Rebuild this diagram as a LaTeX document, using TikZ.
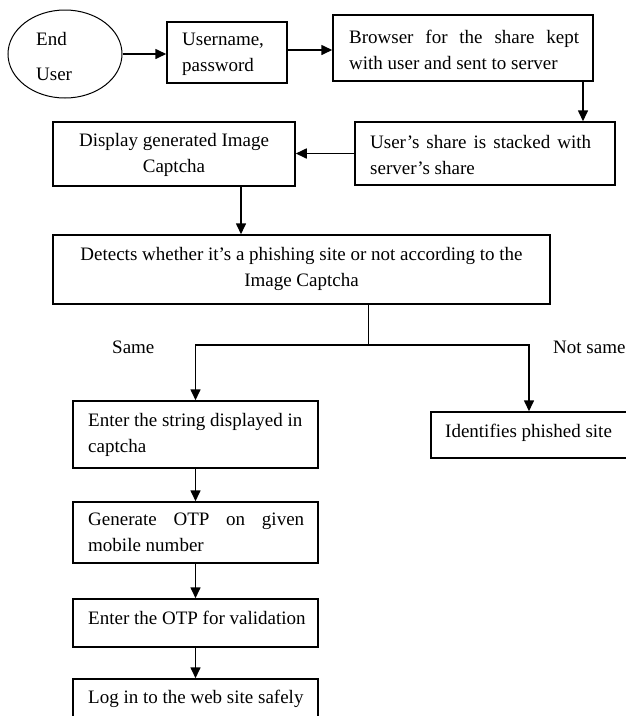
\documentclass[tikz,border=0pt]{standalone}
\usepackage{fontspec}
\setmainfont{Liberation Serif}
\usetikzlibrary{arrows.meta,shapes.geometric}
\begin{document}
\begin{tikzpicture}[x=1pt,y=-1pt,
  box/.style={draw, line width=1.5pt, inner sep=0pt},
  lbl/.style={inner sep=0pt, font=\fontsize{19}{26}\selectfont, anchor=west, align=left},
  clbl/.style={inner sep=0pt, font=\fontsize{19}{26}\selectfont, align=center},
  arr/.style={line width=1.6pt, -{Triangle[length=11pt,width=10pt]}},
  stub/.style={line width=0.8pt},
]
\useasboundingbox (0,0) rectangle (626,716);
\clip (0,0) rectangle (626,716);

% shapes
\node[draw, ellipse, line width=1pt, minimum width=114pt, minimum height=88pt, inner sep=0pt] (eu) at (65,54) {};
\node[box, minimum width=120pt, minimum height=61pt] (user) at (227,52.5) {};
\node[box, minimum width=260pt, minimum height=66pt] (browser) at (463,48) {};
\node[box, minimum width=260pt, minimum height=63pt] (share) at (485,153.5) {};
\node[box, minimum width=242pt, minimum height=64pt] (disp) at (174,154) {};
\node[box, minimum width=497pt, minimum height=69pt] (det) at (301.5,269.5) {};
\node[box, minimum width=245pt, minimum height=67pt] (enter) at (195.5,434.5) {};
\node[box, minimum width=199pt, minimum height=46pt] (ident) at (530.5,435) {};
\node[box, minimum width=245pt, minimum height=61pt] (gen) at (195.5,532.5) {};
\node[box, minimum width=245pt, minimum height=48pt] (otp) at (195.5,623) {};
\node[box, minimum width=245pt, minimum height=46pt] (login) at (195.5,702) {};

% texts
\node[lbl] (t-end) at (36,39) {End};
\node[lbl] (t-user) at (36,74) {User};
\node[lbl] (t-up) at (182,54.5) {Username,\\password};
\node[lbl] (t-br) at (349,49.5) {\makebox[230pt][s]{Browser for the share kept}\\with user and sent to server};
\node[lbl] (t-sh) at (370,155) {\makebox[221pt][s]{User’s share is stacked with}\\server’s share};
\node[clbl] (t-di) at (174,155) {Display generated Image\\Captcha};
\node[clbl] (t-de) at (301.5,268.5) {Detects whether it’s a phishing site or not according to the\\Image Captcha};
\node[lbl] (t-en) at (88,435) {Enter the string displayed in\\captcha};
\node[lbl] (t-id) at (445,433) {Identifies phished site};
\node[lbl] (t-ge) at (88,532.5) {\makebox[216pt][s]{Generate OTP on given}\\mobile number};
\node[lbl] (t-ot) at (88,618) {Enter the OTP for validation};
\node[lbl] (t-lo) at (88,699) {Log in to the web site safely};
\node[lbl] (t-same) at (112,347) {Same};
\node[lbl] (t-nsame) at (553,347) {Not same};

% connectors
\coordinate (j) at (368,345);
\draw[arr] (eu.east) -- (eu.east -| user.west);
\draw[arr] ([yshift=2.5pt]user.east) -- ([yshift=2.5pt]user.east -| browser.west);
\draw[arr] ([xshift=120pt]browser.south) -- ([xshift=98pt]share.north);
\draw[arr] (share.west) -- (share.west -| disp.east);
\draw[arr] ([xshift=67pt]disp.south) -- ([xshift=-60.5pt]det.north);
\draw[stub] ([xshift=66.5pt]det.south) -- (j);
\draw[arr] (j) -| (enter.north);
\draw[arr] (j) -| ([xshift=-1.5pt]ident.north);
\draw[arr] (enter) -- (gen);
\draw[arr] (gen) -- (otp);
\draw[arr] (otp) -- (login);
\end{tikzpicture}
\end{document}
